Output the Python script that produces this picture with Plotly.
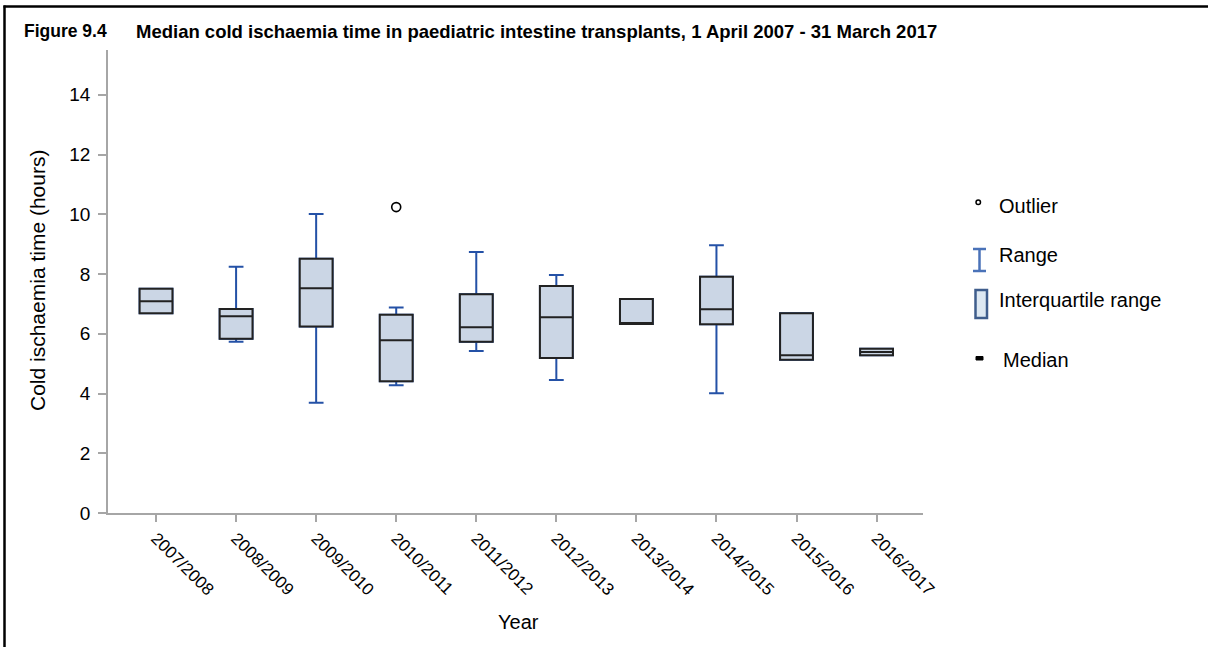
import plotly.graph_objects as go

# ---- data (hours) ----
years = ["2007/2008", "2008/2009", "2009/2010", "2010/2011", "2011/2012",
         "2012/2013", "2013/2014", "2014/2015", "2015/2016", "2016/2017"]
range_min = [6.69, 5.73, 3.69, 4.28, 5.42, 4.45, 6.33, 4.01, 5.13, 5.28]
quart1 = [6.69, 5.83, 6.24, 4.41, 5.73, 5.19, 6.33, 6.32, 5.13, 5.28]
medians = [7.09, 6.59, 7.52, 5.78, 6.22, 6.55, 6.33, 6.82, 5.28, 5.39]
quart3 = [7.51, 6.83, 8.51, 6.64, 7.32, 7.60, 7.16, 7.91, 6.69, 5.50]
range_max = [7.51, 8.24, 10.01, 6.88, 8.74, 7.97, 7.16, 8.96, 6.69, 5.50]
outlier_years = ["2010/2011"]
outlier_values = [10.24]

y_ticks = [0, 2, 4, 6, 8, 10, 12, 14]

FONT = "Liberation Sans, Arial, sans-serif"
BLUE = "#2451a6"
FILL = "#cbd6e5"
AXIS = "#a6a6a6"

# plot area in pixels (for legend/annotation placement)
L, R, T, B = 108, 923, 50, 513
W, H = 1208, 647


def px(x):
    return (x - L) / (R - L)


def py(y):
    return (B - y) / (B - T)


fig = go.Figure()

# whiskers (blue)
fig.add_trace(go.Box(
    x=years, q1=quart1, median=medians, q3=quart3,
    lowerfence=range_min, upperfence=range_max,
    line=dict(color=BLUE, width=2), fillcolor="rgba(0,0,0,0)",
    whiskerwidth=0.45, width=0.41, boxpoints=False, showlegend=False,
    hoverinfo="skip",
))
# interquartile boxes (black outline)
fig.add_trace(go.Box(
    x=years, q1=quart1, median=medians, q3=quart3,
    lowerfence=quart1, upperfence=quart3,
    line=dict(color="#222222", width=2), fillcolor=FILL,
    whiskerwidth=0, width=0.41, boxpoints=False, showlegend=False,
))
# outlier
fig.add_trace(go.Scatter(
    x=outlier_years, y=outlier_values, mode="markers",
    marker=dict(symbol="circle-open", size=9, color="black", line=dict(width=1.6)),
    showlegend=False,
))

shapes = []
# frame (top and left)
shapes.append(dict(type="line", xref="paper", yref="paper",
                   x0=px(3.5), x1=px(1208), y0=py(6.5), y1=py(6.5),
                   line=dict(color="black", width=2.5)))
shapes.append(dict(type="line", xref="paper", yref="paper",
                   x0=px(4.5), x1=px(4.5), y0=py(5.5), y1=py(647),
                   line=dict(color="black", width=2.5)))
# legend icons
shapes.append(dict(type="circle", xref="paper", yref="paper",
                   x0=px(976), x1=px(980.5), y0=py(204.5), y1=py(200),
                   line=dict(color="black", width=1.5)))
shapes.append(dict(type="line", xref="paper", yref="paper",
                   x0=px(979.5), x1=px(979.5), y0=py(249), y1=py(271),
                   line=dict(color="#4a72b8", width=2.5)))
shapes.append(dict(type="line", xref="paper", yref="paper",
                   x0=px(973), x1=px(986), y0=py(249), y1=py(249),
                   line=dict(color="#4a72b8", width=2.5)))
shapes.append(dict(type="line", xref="paper", yref="paper",
                   x0=px(973), x1=px(986), y0=py(271), y1=py(271),
                   line=dict(color="#4a72b8", width=2.5)))
shapes.append(dict(type="rect", xref="paper", yref="paper",
                   x0=px(975.5), x1=px(987), y0=py(290), y1=py(318),
                   line=dict(color="#3f5d8c", width=2.5), fillcolor="#dde8f2"))
shapes.append(dict(type="rect", xref="paper", yref="paper",
                   x0=px(976), x1=px(983), y0=py(356.5), y1=py(360),
                   line=dict(color="black", width=1), fillcolor="black"))

annotations = [
    dict(text="<b>Figure 9.4</b>", xref="paper", yref="paper",
         x=px(22), y=py(31), xanchor="left", yanchor="middle", showarrow=False,
         font=dict(size=17.5, family=FONT, color="black")),
    dict(text="<b>Median cold ischaemia time in paediatric intestine transplants, "
              "1 April 2007 - 31 March 2017</b>", xref="paper", yref="paper",
         x=px(134), y=py(31), xanchor="left", yanchor="middle", showarrow=False,
         font=dict(size=18.5, family=FONT, color="black")),
    dict(text="Cold ischaemia time (hours)", xref="paper", yref="paper",
         x=px(37), y=py(281), textangle=-90, xanchor="center", yanchor="middle",
         showarrow=False, font=dict(size=21, family=FONT, color="black")),
    dict(text="Year", xref="paper", yref="paper",
         x=px(518), y=py(622), xanchor="center", yanchor="middle",
         showarrow=False, font=dict(size=20, family=FONT, color="black")),
]
legend_items = [("Outlier", 997, 206), ("Range", 997, 255),
                ("Interquartile range", 997, 300), ("Median", 1001, 360)]
for txt, lx, ly in legend_items:
    annotations.append(dict(text=txt, xref="paper", yref="paper",
                            x=px(lx), y=py(ly), xanchor="left", yanchor="middle",
                            showarrow=False,
                            font=dict(size=20, family=FONT, color="black")))

fig.update_layout(
    width=W, height=H,
    margin=dict(l=L, r=W - R, t=T, b=H - B, pad=0),
    paper_bgcolor="white", plot_bgcolor="white",
    boxmode="overlay",
    font=dict(family=FONT, color="black"),
    shapes=shapes, annotations=annotations,
    showlegend=False,
    xaxis=dict(type="category", range=[-0.6, 9.58], showline=True,
               linecolor=AXIS, linewidth=1.5, ticks="outside", tickcolor=AXIS,
               ticklen=7, tickwidth=1.5, tickangle=45, showgrid=False,
               zeroline=False, automargin=False,
               tickfont=dict(size=17, family=FONT, color="black")),
    yaxis=dict(range=[0, 15.5], tickvals=y_ticks, showline=True,
               linecolor=AXIS, linewidth=1.5, ticks="outside", tickcolor=AXIS,
               ticklen=8, tickwidth=1.5, showgrid=False, zeroline=False,
               automargin=False, ticklabelstandoff=4,
               tickfont=dict(size=19, family=FONT, color="black")),
)

fig.write_html("out.html", config={"displayModeBar": False},
               post_script="document.body.style.margin='0px';")
